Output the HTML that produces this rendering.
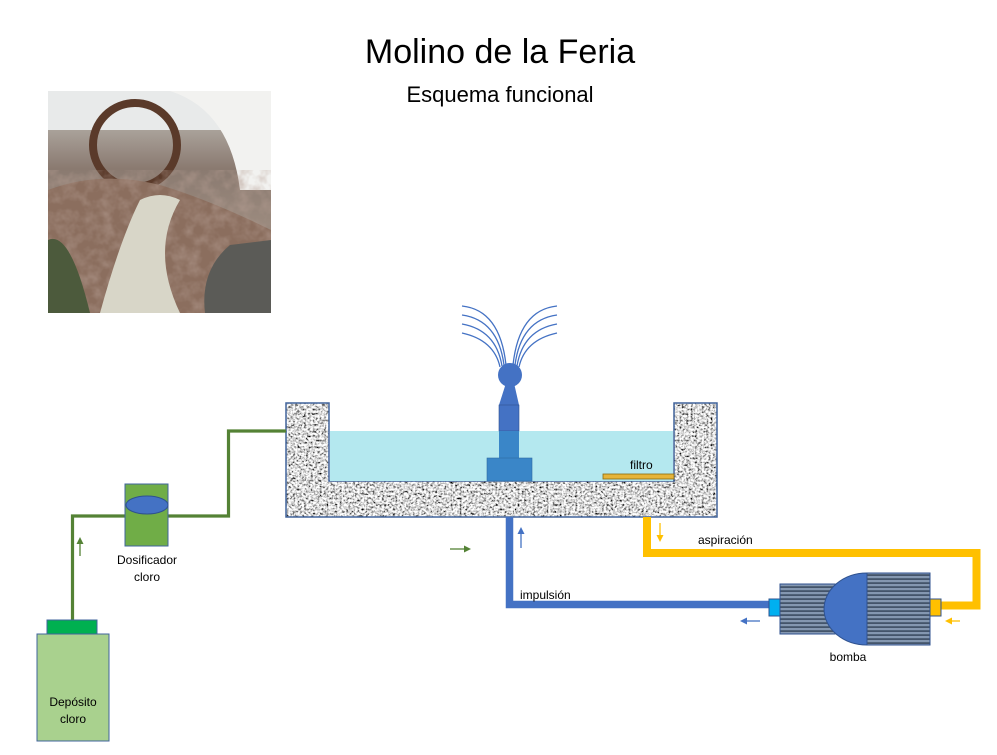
<!DOCTYPE html>
<html><head><meta charset="utf-8"><style>
html,body{margin:0;padding:0;background:#fff;}
body{width:997px;height:750px;overflow:hidden;}
text{font-family:"Liberation Sans",sans-serif;}
</style></head><body>
<svg width="997" height="750" viewBox="0 0 997 750" xmlns="http://www.w3.org/2000/svg">
<defs>
<filter id="gran" x="0" y="0" width="100%" height="100%">
<feTurbulence type="fractalNoise" baseFrequency="0.45" numOctaves="3" seed="3" result="n"/>
<feColorMatrix in="n" type="saturate" values="0" result="g"/>
<feComponentTransfer in="g"><feFuncR type="linear" slope="3.4" intercept="-1.0"/><feFuncG type="linear" slope="3.4" intercept="-1.0"/><feFuncB type="linear" slope="3.4" intercept="-1.0"/><feFuncA type="linear" slope="0" intercept="1"/></feComponentTransfer>
</filter>
<pattern id="stripes" width="4" height="4" patternUnits="userSpaceOnUse">
<rect width="4" height="4" fill="#8497b0"/><rect y="2.2" width="4" height="1.8" fill="#44546a"/>
</pattern>
<linearGradient id="ph" x1="0" y1="0" x2="0" y2="1">
<stop offset="0" stop-color="#c9c9c4"/><stop offset="0.35" stop-color="#8a7a70"/><stop offset="0.6" stop-color="#9b8a7e"/><stop offset="1" stop-color="#6d6a62"/>
</linearGradient>
<clipPath id="bc"><path d="M286 403 H329 V481 H674 V403 H717 V517 H286Z"/></clipPath>
<filter id="rock" x="0" y="0" width="100%" height="100%">
<feTurbulence type="fractalNoise" baseFrequency="0.08" numOctaves="3" seed="7"/>
<feColorMatrix type="matrix" values="0 0 0 0 0.45  0 0 0 0 0.33  0 0 0 0 0.28  1.2 0 0 0 -0.45"/>
</filter>
</defs>

<text x="500" y="63" font-size="34" text-anchor="middle" fill="#000">Molino de la Feria</text>
<text x="500" y="102" font-size="22" text-anchor="middle" fill="#000">Esquema funcional</text>

<!-- photo approximation -->
<rect x="48" y="91" width="223" height="222" fill="url(#ph)"/>
<path d="M48 91 H271 V130 H48Z" fill="#e8eaea"/>
<path d="M170 91 Q230 110 240 190 L271 190 V91Z" fill="#f2f2f0"/>
<circle cx="135" cy="145" r="42" fill="none" stroke="#5a3a2a" stroke-width="8"/>
<path d="M48 190 Q100 170 160 185 Q210 200 271 230 V313 H48Z" fill="#8b6e5e"/>
<rect x="48" y="170" width="223" height="143" fill="#fff" filter="url(#rock)"/>
<path d="M100 313 Q120 240 140 200 Q160 190 180 200 Q150 250 180 313Z" fill="#d8d6c8"/>
<path d="M205 313 Q200 270 230 245 L271 240 V313Z" fill="#5b5b57"/>
<path d="M48 240 Q70 230 90 313 H48Z" fill="#4c5a3c"/>

<!-- basin -->
<path d="M286 403 H329 V481 H674 V403 H717 V517 H286Z" fill="#9a9a9a"/>
<rect x="286" y="403" width="431" height="114" fill="#fff" filter="url(#gran)" clip-path="url(#bc)"/>
<path d="M286 403 H329 V481 H674 V403 H717 V517 H286Z" fill="none" stroke="#41649c" stroke-width="1.5"/>
<rect x="330" y="431" width="343" height="50" fill="#b4e8ef"/>
<rect x="603" y="474" width="71" height="5" fill="#e6b43a" stroke="#8a6a10" stroke-width="0.8"/>
<text x="630" y="469" font-size="12" fill="#000">filtro</text>

<!-- fountain -->
<g fill="none" stroke="#4472c4" stroke-width="1.3">
<path d="M462 306 Q500 310 506 365"/><path d="M462 315 Q498 320 504 365"/><path d="M462 324 Q496 330 502 366"/><path d="M462 333 Q494 340 500 367"/>
<path d="M557 306 Q519 310 513 365"/><path d="M557 315 Q521 320 515 365"/><path d="M557 324 Q523 330 517 366"/><path d="M557 333 Q525 340 519 367"/>
</g>
<circle cx="510" cy="375" r="12" fill="#4472c4"/>
<path d="M506 383 L514 383 L519 405 L499 405Z" fill="#4472c4"/>
<rect x="499" y="405" width="20" height="26" fill="#4472c4" stroke="#2f528f" stroke-width="0.6"/>
<rect x="499" y="431" width="20" height="27" fill="#3a86c8"/>
<rect x="487" y="458" width="45" height="23" fill="#3a86c8" stroke="#2f6aa0" stroke-width="0.6"/>

<!-- blue pipe -->
<path d="M509.5 517 V604.5 H770" fill="none" stroke="#4472c4" stroke-width="7.5"/>
<text x="520" y="599" font-size="12" fill="#000">impulsión</text>
<!-- yellow pipe -->
<path d="M647 517 V553 H976.5 V605.5 H941" fill="none" stroke="#ffc000" stroke-width="8"/>
<text x="698" y="544" font-size="12" fill="#000">aspiración</text>

<!-- pump -->
<rect x="769" y="599" width="11" height="17" fill="#00b0f0" stroke="#2f528f" stroke-width="1"/>
<rect x="930" y="599" width="11" height="17" fill="#ffc000" stroke="#2f528f" stroke-width="1"/>
<rect x="780" y="584" width="55" height="50" fill="url(#stripes)" stroke="#2f528f" stroke-width="1"/>
<rect x="867" y="573" width="63" height="72" fill="url(#stripes)" stroke="#2f528f" stroke-width="1"/>
<path d="M867 573 A43 36 0 0 0 867 645Z" fill="#4472c4" stroke="#2f528f" stroke-width="1"/>
<text x="848" y="661" font-size="12" text-anchor="middle" fill="#000">bomba</text>

<!-- arrows -->
<g stroke-width="1.3" fill="none">
<path d="M521 548 V530" stroke="#4472c4"/><path d="M517.5 534 L521 527 L524.5 534Z" fill="#4472c4" stroke="none"/>
<path d="M660 523 V538" stroke="#ffc000"/><path d="M656.5 535 L660 542 L663.5 535Z" fill="#ffc000" stroke="none"/>
<path d="M760 621 H744" stroke="#4472c4"/><path d="M747 617.5 L740 621 L747 624.5Z" fill="#4472c4" stroke="none"/>
<path d="M960 621 H950" stroke="#ffc000"/><path d="M952 617.5 L945 621 L952 624.5Z" fill="#ffc000" stroke="none"/>
<path d="M450 549 H466" stroke="#548235"/><path d="M464 545.5 L471 549 L464 552.5Z" fill="#548235" stroke="none"/>
<path d="M80 556 V541" stroke="#548235"/><path d="M76.5 544 L80 537 L83.5 544Z" fill="#548235" stroke="none"/>
</g>

<!-- green chlorine line -->
<path d="M286 431 H228.5 V516 H168 M125 516 H72.5 V620" fill="none" stroke="#548235" stroke-width="3.2"/>
<rect x="125" y="484" width="43" height="62" fill="#70ad47" stroke="#41649c" stroke-width="1"/>
<ellipse cx="147" cy="505" rx="21" ry="9" fill="#4472c4" stroke="#2f528f" stroke-width="1"/>
<text x="147" y="564" font-size="12" text-anchor="middle" fill="#000">Dosificador</text>
<text x="147" y="581" font-size="12" text-anchor="middle" fill="#000">cloro</text>

<rect x="47" y="620" width="50" height="14" fill="#00b050" stroke="#41649c" stroke-width="1"/>
<rect x="37" y="634" width="72" height="107" fill="#a9d18e" stroke="#41649c" stroke-width="1"/>
<text x="73" y="706" font-size="12" text-anchor="middle" fill="#000">Depósito</text>
<text x="73" y="723" font-size="12" text-anchor="middle" fill="#000">cloro</text>
</svg>
</body></html>
